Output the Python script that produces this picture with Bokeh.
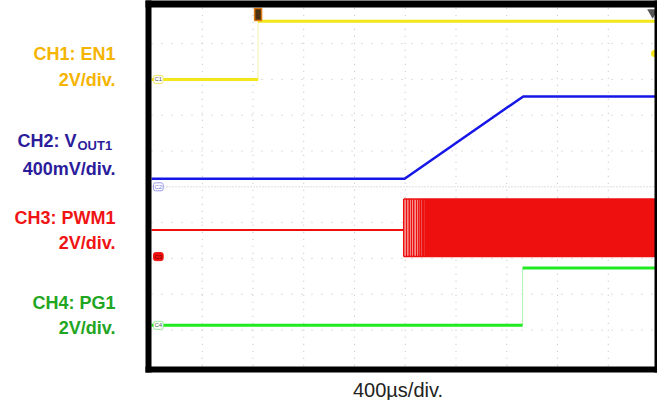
from bokeh.plotting import figure
from bokeh.models import Range1d
from bokeh.core.properties import value
from bokeh.embed import file_html
from bokeh.resources import INLINE

# ---------------- data ----------------
TIME_PER_DIV = 400          # µs per division
N_DIV = 10

ch_titles = ["CH1: EN1", "CH2: V", "CH3: PWM1", "CH4: PG1"]
ch_scale_labels = ["2V/div.", "400mV/div.", "2V/div.", "2V/div."]
ch_volts_per_div = [2.0, 0.4, 2.0, 2.0]
ch_ground_div = [8.0, 5.0, 3.05, 1.13]       # ground-marker positions (div)
ch_tags = ["C1", "C2", "C3", "C4"]
vout_subscript = "OUT1"
time_label = "400µs/div."

en_t = [0, 840, 840, 4000]                   # µs
en_v = [0.0, 0.0, 3.25, 3.25]                # V

vout_t = [0, 1995, 2930, 4000]
vout_v = [0.09, 0.09, 1.01, 1.01]

pwm_pre_t = [0, 1988]
pwm_pre_v = [1.48, 1.48]
pwm_pulse_t = [1988, 2010, 2031, 2049, 2067, 2089, 2107, 2120, 2134, 2146]
pwm_dense_t = [2150, 4000]
pwm_low_v = 0.0
pwm_high_v = 3.22

pg_t = [0, 2925, 2925, 4000]
pg_v = [0.0, 0.0, 3.2, 3.2]

trigger_t = 840
trigger_level_v = 1.45
delay_marker_t = 3950

# ---------------- layout / style ----------------
W, H = 657, 400
PX0, PX_DIV = 151.0, 50.75        # screen x of t=0, px per division
PY0, PY_DIV = 365.3, 35.8         # screen y of div 0, px per division
BOX_L, BOX_R, BOX_T, BOX_B = 145, 654, 7, 366    # inner white box edges (px)
BORDER = 6


def xd(px):
    return (px - PX0) / PX_DIV * TIME_PER_DIV


def yd(py):
    return (PY0 - py) / PY_DIV


def to_div(ch, volts):
    return [ch_ground_div[ch] + v / ch_volts_per_div[ch] for v in volts]


FONT = value("Liberation Sans")
C_YEL, C_YEL_F = "#F5E51B", "#F7F0A8"
C_BLU = "#1616E8"
C_RED, C_RED_L = "#EE0F0F", "#F7B5B5"
C_GRN, C_GRN_F = "#22EA22", "#AEF2AE"
label_colors = ["#F5B400", "#2B1C9C", "#F01414", "#22A622"]

p = figure(width=W, height=H,
           x_range=Range1d(xd(0), xd(W)), y_range=Range1d(yd(H), yd(0)),
           output_backend="svg", toolbar_location=None,
           x_axis_location=None, y_axis_location=None,
           min_border=0, background_fill_color="white", border_fill_color="white",
           outline_line_color=None)
p.xgrid.visible = False
p.ygrid.visible = False

# graticule (dotted division lines, denser centre line)
GRID_C = "#BDBDBD"
x_ticks = [TIME_PER_DIV * k for k in range(1, N_DIV)]
y_ticks = [k for k in range(1, N_DIV) if k != N_DIV // 2]
p.segment(x_ticks, [0] * len(x_ticks), x_ticks, [N_DIV] * len(x_ticks),
          line_color=GRID_C, line_dash="1 6", line_width=1)
p.segment([0] * len(y_ticks), y_ticks, [N_DIV * TIME_PER_DIV] * len(y_ticks), y_ticks,
          line_color=GRID_C, line_dash="1 9", line_width=1)
p.segment([0], [N_DIV // 2], [N_DIV * TIME_PER_DIV], [N_DIV // 2],
          line_color=GRID_C, line_dash="1 2", line_width=1)


def step_trace(t, y, color, faint):
    p.line(t, y, line_color=faint, line_width=1)
    x0, x1, y0, y1 = [], [], [], []
    for i in range(len(t) - 1):
        if y[i] == y[i + 1]:
            x0.append(t[i]); x1.append(t[i + 1]); y0.append(y[i]); y1.append(y[i + 1])
    p.segment(x0, y0, x1, y1, line_color=color, line_width=3)


# CH1 EN1
step_trace(en_t, to_div(0, en_v), C_YEL, C_YEL_F)

# CH2 VOUT1
p.line(vout_t, to_div(1, vout_v), line_color=C_BLU, line_width=2.5)

# CH3 PWM1
p.line(pwm_pre_t, to_div(2, pwm_pre_v), line_color=C_RED, line_width=2)
lo, hi = to_div(2, [pwm_low_v, pwm_high_v])
p.varea(x=[pwm_pulse_t[0], pwm_dense_t[0]], y1=[lo, lo], y2=[hi, hi], fill_color=C_RED_L)
p.segment(pwm_pulse_t, [lo] * len(pwm_pulse_t), pwm_pulse_t, [hi] * len(pwm_pulse_t),
          line_color=C_RED, line_width=1.5)
p.varea(x=pwm_dense_t, y1=[lo, lo], y2=[hi, hi], fill_color=C_RED)
p.segment([pwm_pulse_t[0]] * 2, [lo, hi], [pwm_dense_t[-1]] * 2, [lo, hi],
          line_color=C_RED, line_width=1.5)

# CH4 PG1
step_trace(pg_t, to_div(3, pg_v), C_GRN, C_GRN_F)

# channel ground tags
p.text(x=[0] * 4, y=ch_ground_div, text=ch_tags, x_offset=2,
       text_font=FONT, text_font_size="6px", text_baseline="middle",
       text_color=["#555555", "#7777dd", "#7a0000", "#446644"],
       background_fill_color=["white", "white", "#F01010", "white"],
       border_line_color=["#F2E45A", "#9A9AF0", "#F01010", "#9AE89A"],
       padding=1, border_radius=2)

# trigger position marker, delay marker, trigger level
p.rect(x=[trigger_t], y=[yd(14)], width=7, height=12, width_units="screen",
       height_units="screen", fill_color="#4A3010", line_color="#E07A10", line_width=1.5)
p.scatter(x=[delay_marker_t], y=[yd(12)], marker="inverted_triangle", size=11,
          fill_color="#555555", line_color=None)
p.scatter(x=[xd(654)], y=[ch_ground_div[0] + trigger_level_v / ch_volts_per_div[0]],
          marker="circle", size=7, fill_color=C_YEL, line_color=None)

# black screen border
p.quad(left=[xd(BOX_L), xd(BOX_L), xd(BOX_R), xd(BOX_L)],
       right=[xd(BOX_L + BORDER), xd(W + 5), xd(W + 5), xd(W + 5)],
       top=[yd(BOX_T - BORDER - 2), yd(BOX_T - BORDER - 2), yd(BOX_T - BORDER - 2), yd(BOX_B)],
       bottom=[yd(BOX_B + BORDER), yd(BOX_T), yd(BOX_B + BORDER), yd(BOX_B + BORDER)],
       fill_color="black", line_color=None)

# left labels
title_py = [53, 140, 217, 302]
scale_py = [79, 168, 242, 327]
LABEL_RIGHT = 115
title_right = [LABEL_RIGHT, 76, LABEL_RIGHT, LABEL_RIGHT]
p.text(x=[xd(r) for r in title_right], y=[yd(v) for v in title_py], text=ch_titles,
       text_align="right", text_baseline="middle", text_font=FONT,
       text_font_style="bold", text_font_size="18px", text_color=label_colors)
p.text(x=[xd(LABEL_RIGHT)] * 4, y=[yd(v) for v in scale_py], text=ch_scale_labels,
       text_align="right", text_baseline="middle", text_font=FONT,
       text_font_style="bold", text_font_size="18px", text_color=label_colors)
p.text(x=[xd(77)], y=[yd(144.5)], text=[vout_subscript], text_align="left",
       text_baseline="middle", text_font=FONT, text_font_style="bold",
       text_font_size="13px", text_color=label_colors[1])

# time base label
p.text(x=[xd(397.5)], y=[yd(389)], text=[time_label], text_align="center",
       text_baseline="middle", text_font=FONT, text_font_size="20px",
       text_color="#222222")

open("out.html", "w").write(file_html(p, INLINE))
